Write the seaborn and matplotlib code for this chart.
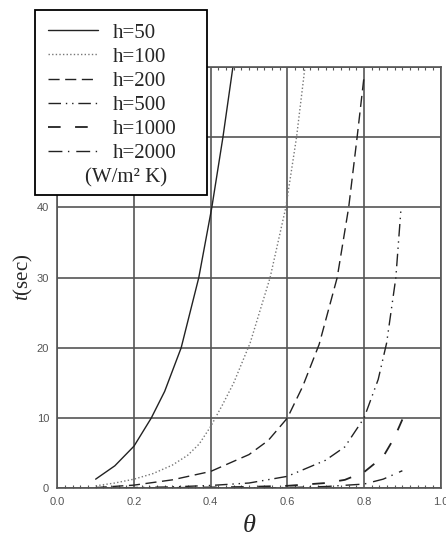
import numpy as np
import matplotlib
matplotlib.use("Agg")
import matplotlib.pyplot as plt
from matplotlib.lines import Line2D
from matplotlib.patches import Rectangle
from matplotlib.ticker import MultipleLocator, FormatStrFormatter
import seaborn as sns

# values (theta, t in sec)
h50_theta = [0.10, 0.15, 0.20, 0.245, 0.28, 0.323, 0.369, 0.403, 0.432, 0.458]
h50_t = [1.3, 3.2, 6.0, 10.0, 13.8, 20.0, 30.0, 40.0, 50.0, 60.0]

h100_theta = [0.10, 0.15, 0.20, 0.25, 0.30, 0.34, 0.37, 0.40, 0.43, 0.46, 0.503, 0.555, 0.596, 0.624, 0.646]
h100_t = [0.35, 0.75, 1.3, 2.1, 3.3, 4.7, 6.3, 8.8, 11.8, 15.0, 20.7, 30.0, 40.0, 50.0, 60.0]

h200_theta = [0.10, 0.20, 0.30, 0.40, 0.50, 0.55, 0.60, 0.64, 0.683, 0.73, 0.76, 0.782, 0.80]
h200_t = [0.10, 0.45, 1.2, 2.4, 4.8, 6.8, 10.0, 14.5, 20.5, 30.0, 40.0, 50.0, 58.6]

h500_theta = [0.10, 0.20, 0.30, 0.40, 0.50, 0.60, 0.70, 0.75, 0.80, 0.837, 0.859, 0.883, 0.896]
h500_t = [0.03, 0.10, 0.20, 0.40, 0.75, 1.7, 4.0, 5.9, 10.0, 15.5, 20.7, 30.0, 39.5]

h1000_theta = [0.10, 0.30, 0.50, 0.60, 0.70, 0.75, 0.80, 0.85, 0.88, 0.90]
h1000_t = [0.01, 0.05, 0.20, 0.35, 0.75, 1.2, 2.3, 4.5, 7.3, 9.8]

h2000_theta = [0.10, 0.30, 0.50, 0.60, 0.70, 0.80, 0.85, 0.90]
h2000_t = [0.0, 0.02, 0.05, 0.10, 0.25, 0.60, 1.3, 2.5]

labels = ["h=50", "h=100", "h=200", "h=500", "h=1000", "h=2000"]
series = [(h50_theta, h50_t), (h100_theta, h100_t), (h200_theta, h200_t),
          (h500_theta, h500_t), (h1000_theta, h1000_t), (h2000_theta, h2000_t)]
styles = [
    dict(linestyle="-", color="#222222", linewidth=1.0),
    dict(linestyle=(0, (1, 1.6)), color="#777777", linewidth=1.0),
    dict(linestyle=(0, (8, 4)), color="#222222", linewidth=1.0),
    dict(linestyle=(0, (9, 3.5, 1, 3.5, 1, 3.5)), color="#222222", linewidth=1.0),
    dict(linestyle=(0, (7, 8)), color="#222222", linewidth=1.3),
    dict(linestyle=(0, (10, 4, 1, 5)), color="#222222", linewidth=1.0),
]

sns.set_style("white")
plt.rcParams["font.family"] = ["Liberation Serif", "DejaVu Serif"]
plt.rcParams["mathtext.fontset"] = "custom"
plt.rcParams["mathtext.it"] = "Liberation Serif:italic"
plt.rcParams["mathtext.rm"] = "Liberation Serif"

fig = plt.figure(figsize=(4.46, 5.39), dpi=100)
ax = fig.add_axes([0.1285, 0.0941, 0.8596, 0.7816])

for (th, tt), st in zip(series, styles):
    sns.lineplot(x=th, y=tt, ax=ax, sort=False, **st)

ax.set_xlim(0, 1)
ax.set_ylim(0, 60)
ax.xaxis.set_major_locator(MultipleLocator(0.2))
ax.xaxis.set_major_formatter(FormatStrFormatter("%.1f"))
ax.yaxis.set_major_locator(MultipleLocator(10))
ax.xaxis.set_minor_locator(MultipleLocator(0.02))
ax.grid(True, which="major", color="#555555", linewidth=1.2)
ax.set_axisbelow(True)
for sp in ax.spines.values():
    sp.set_color("#555555")
    sp.set_linewidth(1.2)

ax.tick_params(axis="both", which="major", direction="out", length=4, width=1,
               color="#555555", labelcolor="#555555", labelsize=8, pad=2)
ax.tick_params(axis="x", which="minor", direction="in", length=2, width=0.8,
               color="#555555", top=True, bottom=True)
for lab in ax.get_xticklabels() + ax.get_yticklabels():
    lab.set_fontfamily("Liberation Sans")

ax.set_xlabel("θ", fontstyle="italic", fontsize=19, labelpad=6)
ax.set_ylabel(r"$t$(sec)", fontsize=15, labelpad=1)

# legend box
box = Rectangle((35 / 446, 1 - 195 / 539), 172 / 446, 185 / 539,
                transform=fig.transFigure, facecolor="white",
                edgecolor="black", linewidth=1.3, zorder=3)
fig.patches.append(box)
handles = [Line2D([], [], **st) for st in styles]
fig.legend(handles, labels, loc="upper left",
           bbox_to_anchor=(48 / 446, 1 - 23 / 539), bbox_transform=fig.transFigure,
           frameon=False, borderpad=0, borderaxespad=0, fontsize=15,
           handlelength=2.4, handletextpad=0.7, labelspacing=0.22)
fig.text(126 / 446, 1 - 178 / 539, "(W/m² K)", ha="center", va="center",
         fontsize=15, zorder=6)

plt.savefig("out.png", dpi=100)
